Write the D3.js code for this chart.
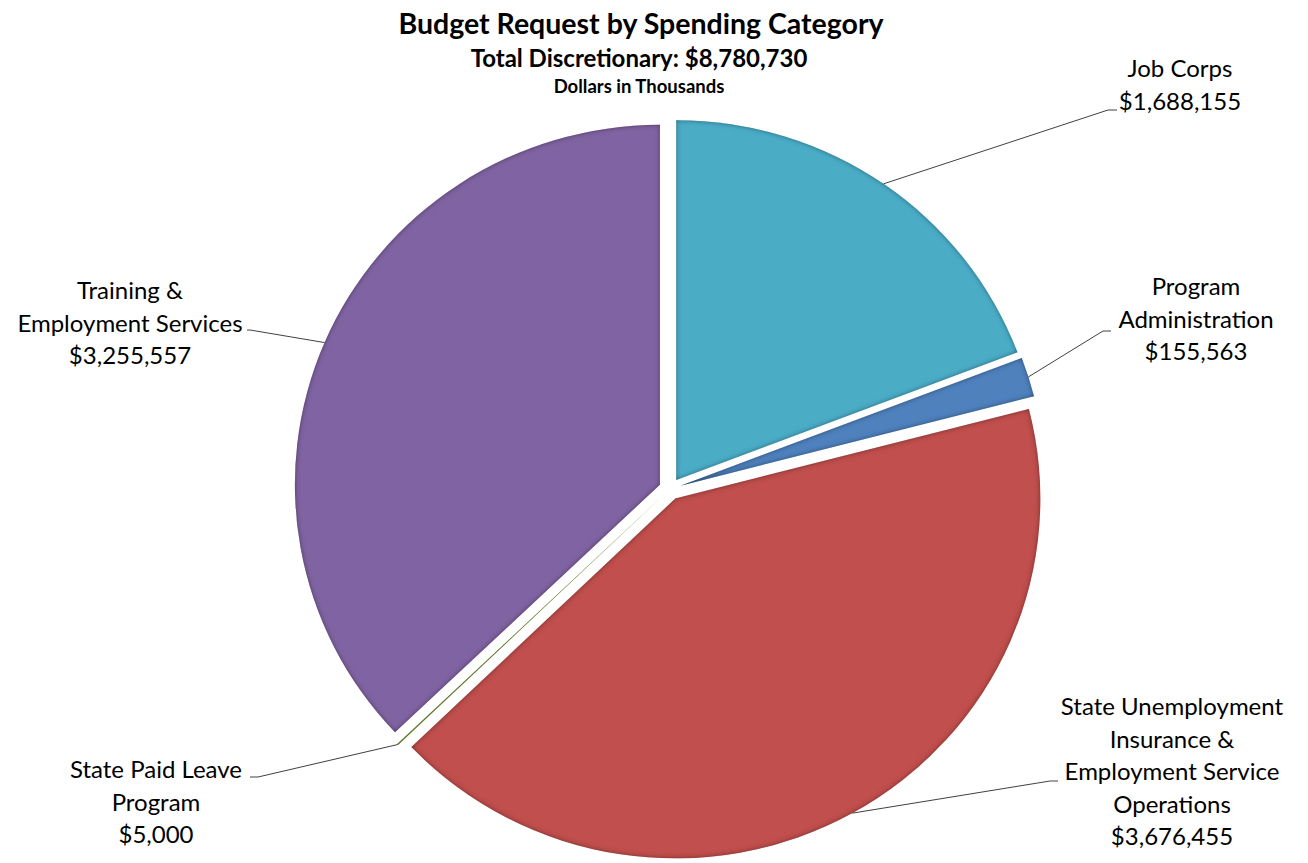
<!DOCTYPE html>
<html>
<head>
<meta charset="utf-8">
<script src="https://cdn.jsdelivr.net/npm/d3@7"></script>
<style>
  html, body { margin: 0; padding: 0; background: #ffffff; }
  svg { display: block; }
  text { font-family: Lato, "Open Sans", sans-serif; fill: #000; }
</style>
</head>
<body>
<svg id="chart" width="1308" height="863"></svg>
<script>
// Discretionary budget request, dollars in thousands (clockwise from 12 o'clock)
const categories = [
  "Job Corps",
  "Program Administration",
  "State Unemployment Insurance & Employment Service Operations",
  "State Paid Leave Program",
  "Training & Employment Services"
];
const values = [1688155, 155563, 3676455, 5000, 3255557];
const colors = ["#4BACC6", "#4F81BD", "#C0504D", "#9BBB59", "#8064A2"];

const titleText = "Budget Request by Spending Category";
const subtitleText = "Total Discretionary: $8,780,730";
const unitText = "Dollars in Thousands";

// How each category name wraps in its data label
const labelLines = [
  ["Job Corps"],
  ["Program", "Administration"],
  ["State Unemployment", "Insurance &", "Employment Service", "Operations"],
  ["State Paid Leave", "Program"],
  ["Training &", "Employment Services"]
];

// Label placement: text centre x, first baseline y, and leader line elbow/end
const labelLayout = [
  { x: 1180, y: 77,  elbow: [1108, 110], end: [1117, 110] },
  { x: 1196, y: 295, elbow: [1103, 331], end: [1111, 331] },
  { x: 1172, y: 715, elbow: [1050, 781], end: [1058, 781] },
  { x: 156,  y: 778, elbow: [258, 777],  end: [250, 777] },
  { x: 130,  y: 299, elbow: [250, 330],  end: [247, 330] }
];

const cx = 670, cy = 489;      // pie centre
const R = 365;                 // radius
const sy = 0.986;              // slight vertical squash of the plot area
const explode = 11;            // slice offset from centre
const lineGap = 32.5;

const svg = d3.select("#chart");

// Inner shadow used on every slice
const defs = svg.append("defs");
const f = defs.append("filter").attr("id", "innerShadow")
  .attr("x", "-5%").attr("y", "-5%").attr("width", "110%").attr("height", "110%");
f.append("feFlood").attr("flood-color", "#000").attr("flood-opacity", 0.8).attr("result", "flood");
f.append("feComposite").attr("in", "flood").attr("in2", "SourceAlpha").attr("operator", "out").attr("result", "outside");
f.append("feGaussianBlur").attr("in", "outside").attr("stdDeviation", 2.8).attr("result", "blur");
f.append("feComposite").attr("in", "blur").attr("in2", "SourceAlpha").attr("operator", "in").attr("result", "shadow");
const merge = f.append("feMerge");
merge.append("feMergeNode").attr("in", "SourceGraphic");
merge.append("feMergeNode").attr("in", "shadow");

const data = categories.map((c, i) => ({ name: c, value: values[i], color: colors[i], i }));

const pie = d3.pie().sort(null).value(d => d.value).startAngle(0).endAngle(2 * Math.PI);
const arcs = pie(data);
const arc = d3.arc().innerRadius(0).outerRadius(R);

const offsetOf = a => {
  const m = (a.startAngle + a.endAngle) / 2;
  return [explode * Math.sin(m), -explode * Math.cos(m)];
};

const g = svg.append("g").attr("transform", `translate(${cx},${cy}) scale(1,${sy})`);

g.selectAll("path.slice")
  .data(arcs)
  .join("path")
  .attr("class", "slice")
  .attr("d", arc)
  .attr("fill", d => d.data.color)
  .attr("filter", "url(#innerShadow)")
  .attr("transform", d => { const o = offsetOf(d); return `translate(${o[0]},${o[1]})`; });

// Leader lines from each slice edge to its label
const fmt = d3.format("$,");
arcs.forEach(a => {
  const L = labelLayout[a.data.i];
  const m = (a.startAngle + a.endAngle) / 2;
  const o = offsetOf(a);
  const sx = cx + o[0] + R * Math.sin(m);
  const syy = cy + sy * (o[1] - R * Math.cos(m));
  svg.append("polyline")
    .attr("points", [[sx, syy], L.elbow, L.end].map(p => p.join(",")).join(" "))
    .attr("fill", "none")
    .attr("stroke", "#404040")
    .attr("stroke-width", 1);
});

// Data labels: category name lines followed by the value
arcs.forEach(a => {
  const L = labelLayout[a.data.i];
  const lines = labelLines[a.data.i].concat([fmt(a.data.value)]);
  const t = svg.append("text")
    .attr("text-anchor", "middle")
    .attr("font-size", 24)
    .attr("x", L.x).attr("y", L.y);
  lines.forEach((s, k) => {
    t.append("tspan").attr("x", L.x).attr("y", L.y + k * lineGap).text(s);
  });
});

// Titles
svg.append("text").attr("x", 641).attr("y", 34).attr("text-anchor", "middle")
  .attr("font-size", 28.5).attr("font-weight", 700).text(titleText);
svg.append("text").attr("x", 639).attr("y", 67).attr("text-anchor", "middle")
  .attr("font-size", 24).attr("font-weight", 700).text(subtitleText);
svg.append("text").attr("x", 639).attr("y", 93).attr("text-anchor", "middle")
  .attr("font-size", 18.5).attr("font-weight", 700).text(unitText);
</script>
</body>
</html>
